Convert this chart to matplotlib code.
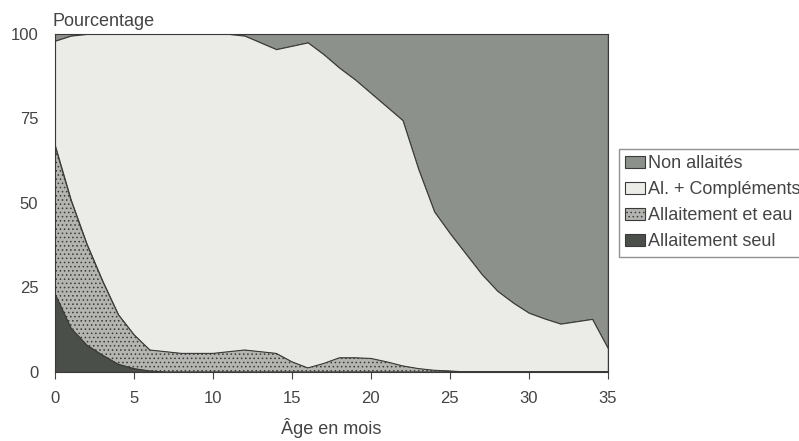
import matplotlib.pyplot as plt
import numpy as np

plt.rcParams['font.family'] = ['Liberation Sans', 'DejaVu Sans']
plt.rcParams['hatch.linewidth'] = 0.6

# Âge en mois
mois = np.arange(0, 36)

# Limites cumulées (%)
seul_haut = [23, 13, 8, 5, 2.3, 1, 0.3] + [0] * 29
eau_haut = [67, 51, 38, 27, 17, 11, 6.5, 6, 5.5, 5.5, 5.5, 6, 6.5, 6, 5.5, 3,
            1.2, 2.5, 4.2, 4.2, 4, 3, 1.8, 1, 0.5, 0.3, 0, 0, 0, 0, 0, 0, 0, 0, 0, 0]
compl_haut = [98, 99.5, 100, 100, 100, 100, 100, 100, 100, 100, 100, 100, 99.5, 97.5,
              95.5, 96.5, 97.5, 94, 90, 86.5, 82.5, 78.5, 74.5, 60, 47.5, 41, 35, 29,
              24, 20.5, 17.5, 15.8, 14.3, 15, 15.7, 7]
non_haut = [100] * 36

labels = ['Non allaités', 'Al. + Compléments', 'Allaitement et eau', 'Allaitement seul']

fig = plt.figure(figsize=(7.99, 4.41), dpi=100)
ax = fig.add_axes([0.0688, 0.1565, 0.692, 0.7665])

bas = np.zeros(36)
h_non = ax.fill_between(mois, compl_haut, non_haut, facecolor='#8d918b', edgecolor='#3a3a3a', lw=0.8)
h_compl = ax.fill_between(mois, eau_haut, compl_haut, facecolor='#ebebe8', edgecolor='#3a3a3a', lw=0.8)
h_eau = ax.fill_between(mois, seul_haut, eau_haut, facecolor='#b4b5b0', edgecolor='#3a3a3a',
                        hatch='....', lw=0.8)
h_seul = ax.fill_between(mois, bas, seul_haut, facecolor='#4b4f49', edgecolor='#3a3a3a', lw=0.8)

ax.set_xlim(0, 35)
ax.set_ylim(0, 100)
ax.set_xticks(range(0, 36, 5))
ax.set_yticks([0, 25, 50, 75, 100])
ax.tick_params(labelsize=12, colors='#444444', length=5)
ax.tick_params(axis='x', pad=9)
ax.tick_params(axis='y', length=0, pad=12)
for s in ax.spines.values():
    s.set_color('#3a3a3a')
    s.set_linewidth(0.8)

ax.set_xlabel('Âge en mois', fontsize=13, color='#444444', labelpad=8)
fig.text(0.066, 0.941, 'Pourcentage', fontsize=13, color='#444444', va='baseline')

fig.legend([h_non, h_compl, h_eau, h_seul], labels,
           loc='upper left', bbox_to_anchor=(0.7747, 0.662), borderaxespad=0,
           frameon=True, fancybox=False, edgecolor='#777777',
           fontsize=13, handlelength=1.1, handleheight=0.6, handletextpad=0.15,
           labelspacing=0.5, borderpad=0.35, labelcolor='#444444')

fig.savefig('out.png', dpi=100)
